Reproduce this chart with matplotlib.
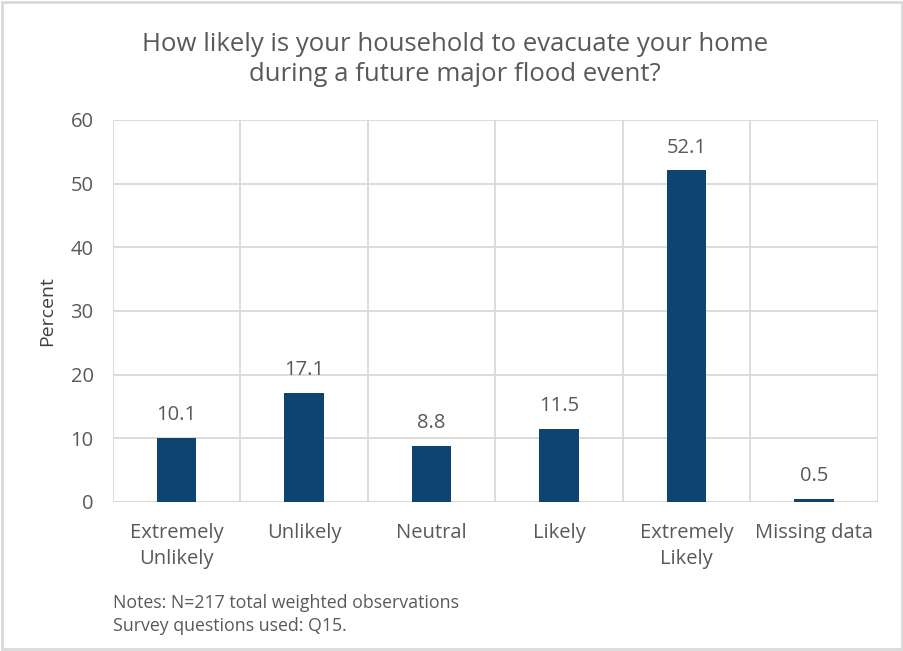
import matplotlib.pyplot as plt
import numpy as np
from matplotlib.patches import Rectangle

plt.rcParams['font.family'] = ['Open Sans', 'DejaVu Sans']

# --- DATA
categories = ["Extremely\nUnlikely", "Unlikely", "Neutral", "Likely",
              "Extremely\nLikely", "Missing data"]
percent = [10.1, 17.1, 8.8, 11.5, 52.1, 0.5]
yticks = [0, 10, 20, 30, 40, 50, 60]

text_col = "#595959"
grid_col = "#D9D9D9"
bar_col = "#0D4471"

fig = plt.figure(figsize=(9.04, 6.51), dpi=100)
ax = fig.add_axes([0.125, 0.2289, 0.846, 0.5868])

x = np.arange(len(categories))
ax.bar(x, percent, width=0.31, color=bar_col, zorder=3)

# --- DATA LABELS
for xi, v in zip(x, percent):
    ax.text(xi, v + 2.0, "%.1f" % v, ha="center", va="bottom",
            fontsize=14.5, color=text_col)

# --- AXES / GRID
ax.set_xlim(-0.5, len(categories) - 0.5)
ax.set_ylim(0, 60)
ax.set_yticks(yticks)
ax.set_xticks(x)
ax.set_xticklabels(categories, fontsize=14.5, color=text_col, linespacing=1.38)
ax.set_xticks(np.arange(-0.5, len(categories)), minor=True)
ax.tick_params(axis="x", which="both", length=0, pad=15)
ax.tick_params(axis="y", length=0, pad=14, labelsize=14.5, labelcolor=text_col)
ax.grid(axis="y", which="major", color=grid_col, linewidth=1.3, zorder=0)
ax.grid(axis="x", which="minor", color=grid_col, linewidth=1.3, zorder=0)
for s in ax.spines.values():
    s.set_visible(False)
ax.axhline(0, color=grid_col, linewidth=1.5, zorder=2)

ax.set_ylabel("Percent", fontsize=14, color="#404040", labelpad=10)

fig.text(0.503, 0.909, "How likely is your household to evacuate your home\nduring a future major flood event?",
         ha="center", va="center", fontsize=18.5, color=text_col, linespacing=1.28)

fig.text(0.125, 0.056, "Notes: N=217 total weighted observations\nSurvey questions used: Q15.",
         ha="left", va="center", fontsize=12.8, color=text_col, linespacing=1.3)

# --- OUTER BORDER
fig.patches.append(Rectangle((0.002, 0.003), 0.996, 0.994, transform=fig.transFigure,
                             fill=False, edgecolor="#D9D9D9", linewidth=2))

fig.savefig("out.png", dpi=100)
